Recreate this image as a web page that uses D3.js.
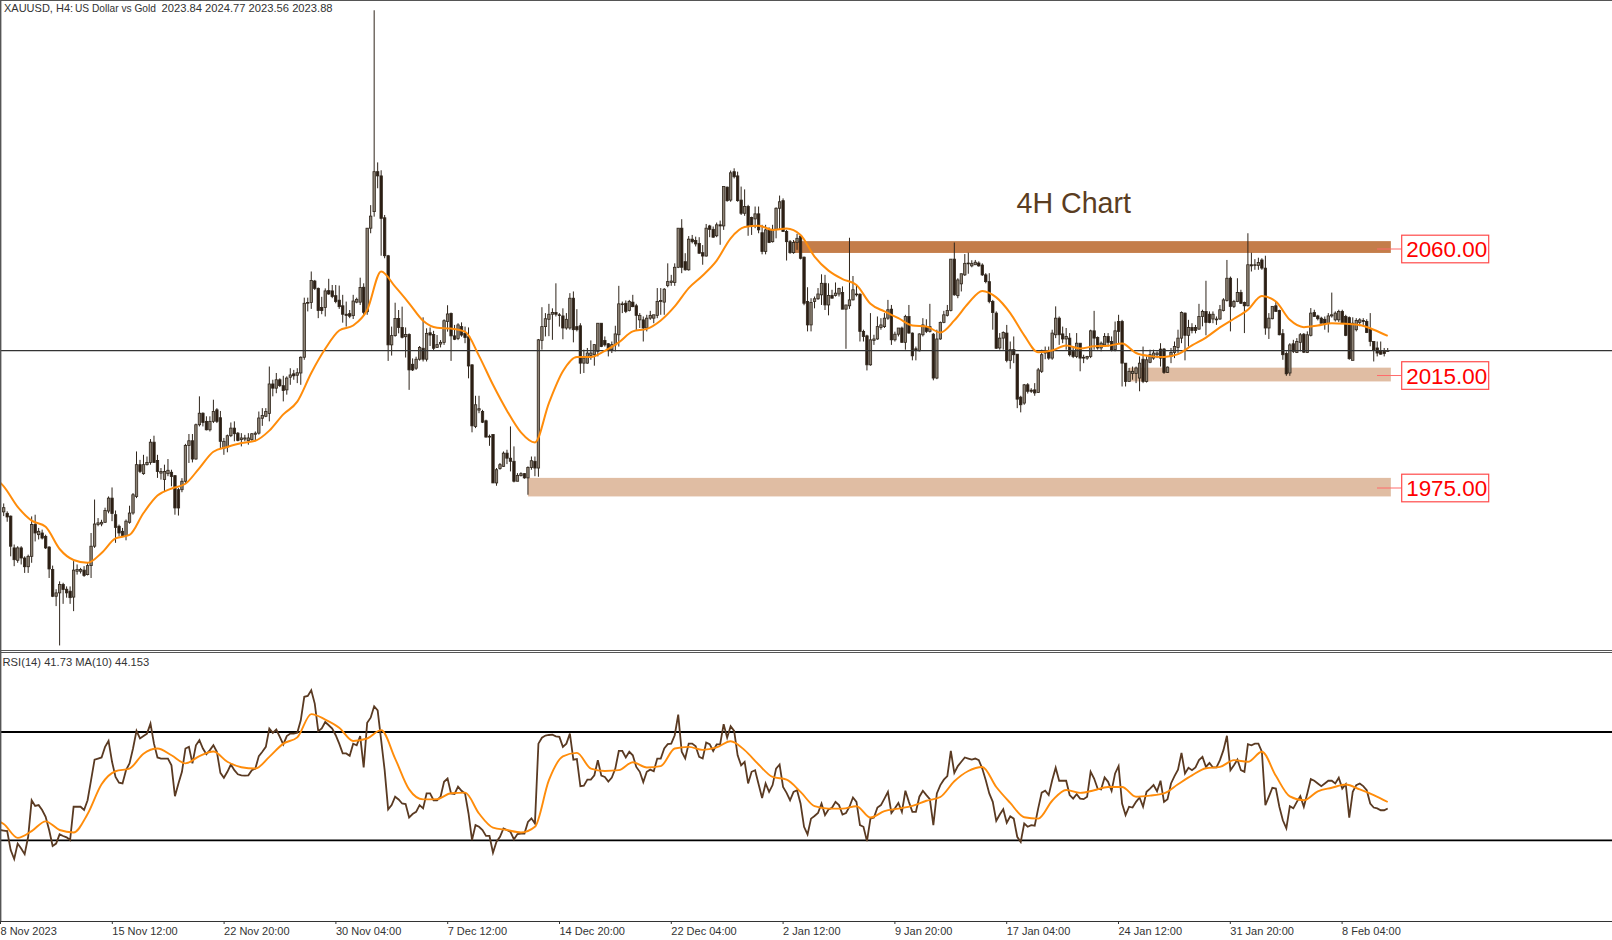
<!DOCTYPE html>
<html>
<head>
<meta charset="utf-8">
<title>XAUUSD H4</title>
<script src="https://cdn.jsdelivr.net/npm/d3@7"></script>
<style>
	html, body { margin: 0; padding: 0; background: #fff; }
	svg { display: block; }
	text { font-family: "Liberation Sans", Arial, sans-serif; white-space: pre; }
</style>
</head>
<body>
<svg id="chart" width="1612" height="940"></svg>
<script>
//values, one per 4h bar
const opens = [
1966.5,1966,1965,1953.7,1949.3,1953.7,1950.1,1947,1950.7,1962,
1958.4,1959,1957.8,1954,1946,1936.5,1937.7,1940.7,1939,1938.3,
1936.2,1945.4,1945.4,1945.8,1944.2,1947.4,1954.3,1962,1962.2,1962.8,
1966.8,1971.4,1965.5,1961.4,1959.6,1958.1,1962.8,1966.1,1972,1983.3,
1980.1,1983.3,1984.1,1991.3,1984.8,1980.3,1978,1980.1,1980.6,1979.4,
1974.4,1974.4,1977.4,1990.1,1991.8,1985.3,1997.5,2001.6,1998.7,1995.7,
1998.7,2002.8,2000,1989.2,1989.6,1993.6,1996.3,1994.5,1992.2,1992.4,
1991.8,1992.2,1994.1,1994.5,1999.8,2000.5,2001.5,2012,2010.5,2013.5,
2011.4,2009.9,2014.4,2015.6,2015.1,2015.9,2021.5,2040.7,2041,2048.6,
2046,2039.2,2039.2,2045.2,2045.1,2043.4,2041.8,2039.8,2036.8,2037,
2036.3,2041.1,2041.1,2046.4,2037.7,2067.4,2073.3,2087.5,2086,2071.1,
2057.6,2025.9,2029.2,2035.3,2032.1,2028.8,2029.6,2019,2017.6,2020.8,
2024.7,2020.8,2030.2,2029.6,2025,2026.2,2026.8,2034.2,2037.1,2029.1,
2028.2,2032.4,2030,2028.8,2018.8,1996.9,2002.7,2002.2,1998.9,1993.1,
1994,1976.8,1981.9,1982.7,1987.4,1985.6,1984.5,1977.4,1979.4,1980.1,
1978.6,1982.3,1984.5,1982.1,2027.5,2032.4,2035,2036.8,2037.4,2036.6,
2036.2,2031.9,2031.9,2042.5,2032.4,2032.7,2019.4,2019.4,2022.1,2022.4,
2023.6,2033.6,2027.5,2026.3,2024.2,2025.9,2029.5,2040.5,2040.7,2038.1,
2041.1,2039.8,2034.8,2034.8,2031.9,2035.4,2035.4,2036.4,2041.3,2041.1,
2047,2048.1,2048.1,2053.5,2067.4,2055.5,2052.6,2063.5,2063,2062,
2058.7,2057.5,2068.2,2067,2064.7,2068.6,2068.2,2082,2077.4,2087.5,
2086,2077.4,2072.7,2075.1,2071.2,2070.7,2072.5,2065.8,2059.1,2066.8,
2062.6,2067,2074.5,2077.2,2066.2,2062.6,2058.7,2062.3,2064.6,2057.1,
2041.3,2033,2041.3,2042.3,2043.7,2047.8,2040.1,2043.5,2043.5,2044,
2044.5,2038.6,2039.8,2041.9,2044,2043.9,2030.7,2029.1,2018.8,2027.5,
2028,2032.1,2032.4,2035.4,2038.6,2027.7,2029.7,2031.9,2026.8,2036,
2030.1,2024.5,2023.8,2029.5,2032.4,2030.7,2029.7,2014.1,2028,2033.9,
2036.4,2038.1,2056.4,2043.4,2047.6,2050.8,2055,2054,2054.4,2055,
2054.3,2050.8,2048.4,2041.3,2037.2,2024.8,2028.3,2030.1,2020.4,2024.2,
2022.6,2007.3,2005.2,2011.7,2009.8,2009.9,2009,2016.5,2023,2023.6,
2021.2,2029.5,2035.4,2029.8,2028,2028.3,2023.6,2021.8,2026.5,2021.5,
2021.2,2021.8,2030.9,2028.5,2024.8,2025.9,2028.9,2027.1,2024.2,2034.2,
2034.2,2019.4,2012.9,2015.7,2015.7,2014.1,2020.8,2012.9,2019.7,2021.2,
2022.4,2024.4,2024.4,2016.1,2021.8,2023.2,2025,2028.3,2037.2,2029.3,
2032.1,2032.1,2031.5,2036,2037.8,2036.8,2035.1,2034.8,2035.1,2038.1,
2041.7,2049.6,2039.6,2041.3,2044.5,2041,2039.8,2054.4,2054.1,2054.1,
2056.1,2053.2,2031.9,2035.2,2039.8,2038.1,2029.9,2022.8,2015.9,2026.3,
2023.2,2026.8,2029.7,2023.2,2029.3,2037.4,2036.2,2035.4,2035,2033.6,
2036.2,2034.8,2034.8,2037.8,2036,2035.6,2020.4,2031.3,2033.9,2034.6,
2034.2,2031.5,2027.1,2024.8,2023.6,2023.6,2023.84];

const highs = [
1969.5,1966.7,1965.2,1954.9,1954.3,1954.3,1950.7,1951.3,1964.9,1965.5,
1960.8,1960.2,1958.4,1954.3,1947.4,1939,1941.8,1941.3,1940,1940,
1949,1947.8,1946.6,1947.2,1948.4,1959,1970.9,1964.3,1963.7,1968,
1972,1975.2,1967,1962,1960.8,1963.8,1968.7,1973.2,1988,1985,
1986.8,1986.2,1992.4,1993.6,1986.8,1982.1,1983.3,1985.3,1981.5,1979.5,
1975,1978.5,1990.7,1994.2,1994.2,1997.9,2007.6,2001.9,2000.5,2000.5,
2006.4,2003.4,2002.4,1992.8,1994,1998.3,1998.7,1994.9,1994.5,1993.9,
1994.5,1994.5,1995.1,2002.2,2003.4,2003.4,2018.2,2013.5,2015.9,2014,
2014.9,2014.7,2017.6,2017,2017.6,2021.8,2042.7,2042.7,2052,2049,
2046.3,2043,2046,2049.4,2047.2,2047.2,2047,2043.7,2041.3,2038.3,
2043.7,2042.7,2049.8,2047.8,2067.4,2075.6,2144.9,2090.8,2088,2072.1,
2057.9,2032.4,2040.9,2038.3,2039.5,2032.1,2030,2021.1,2021.7,2025.5,
2035.7,2031.8,2032.1,2030.9,2029.4,2027.6,2035,2040,2037.4,2033,
2033.6,2033.9,2032.4,2032.1,2019,2007.8,2007.8,2002.8,1999.3,1994,
1994.2,1982.1,1983.9,1988,1988.6,1996.9,1989.8,1980.3,1980.6,1980.3,
1982.7,1986.2,1986.2,2028,2039.3,2037.2,2040.5,2038.9,2047.8,2037.2,
2038.9,2037.2,2044.3,2044.9,2038.6,2033.6,2024.2,2024.8,2027.5,2026,
2033.6,2033.6,2028.9,2026.5,2027.1,2032.7,2046.9,2041.3,2041.7,2041.9,
2043.7,2040.5,2037.2,2036,2036.6,2038,2036.6,2046.1,2046.1,2046.1,
2054.9,2050.8,2054.9,2067.4,2070.6,2058.5,2064.6,2065,2064.4,2064.2,
2061.4,2068.9,2068.6,2068,2069.4,2070.1,2082.2,2082.2,2087.9,2088.7,
2087.5,2082.2,2081.2,2075.7,2071.5,2075.1,2075.1,2068.6,2068.6,2067.7,
2068.6,2074.8,2079,2078,2066.8,2063.2,2063.2,2065.4,2065,2057.3,
2046.4,2042.5,2043.1,2046.1,2051,2050.8,2047.8,2045.5,2048.1,2046.2,
2046.7,2040.1,2064,2050.4,2047.2,2044.3,2031.3,2029.5,2037.2,2029.5,
2036,2035.4,2037.2,2041.9,2040.1,2030.6,2031.9,2032.4,2036.6,2040.1,
2030.3,2025.3,2030,2035.4,2035,2040.5,2030.1,2031.3,2034.2,2038,
2040.1,2056.4,2062.3,2049.6,2051.2,2058.2,2058.7,2056,2056.1,2055.6,
2054.9,2051.4,2051.4,2041.9,2037.8,2030.1,2030.7,2033,2027.1,2028.9,
2022.6,2007.8,2012,2012.3,2010.5,2012.3,2017.7,2024.2,2025.3,2025.3,
2031.3,2039.6,2036,2032.4,2031.9,2030.1,2025.3,2030.1,2026.5,2022.4,
2022,2031.3,2038,2028.9,2027.1,2030.1,2030.1,2028.9,2034.2,2036.6,
2034.8,2019.4,2017.7,2018.2,2018.2,2021.8,2025.3,2021.8,2024.2,2024.2,
2023.6,2026.5,2024.8,2018.2,2024.8,2027.1,2031.3,2037.8,2037.4,2034.8,
2033.6,2033,2040.5,2038.4,2048.7,2037.8,2037.8,2036,2040.1,2042.5,
2056.1,2050.2,2041.9,2049.6,2045.5,2041.3,2065.6,2058.7,2056.4,2056.9,
2056.7,2057.6,2037.2,2039.6,2041.3,2038.4,2031.5,2023.6,2026.5,2027.7,
2028.3,2030.1,2030.1,2030.7,2039,2038.4,2036.6,2035.9,2036,2037.2,
2044.5,2037.8,2038.4,2038.4,2036.6,2036,2035.7,2035.4,2035.4,2035.4,
2035,2037.2,2027.1,2027.1,2027.1,2024.8,2024.77];

const lows = [
1965,1963,1950.7,1947.2,1948.4,1947.8,1944.8,1944.8,1948.4,1956,
1956.7,1956.7,1953.3,1943,1936.2,1933,1919,1933.8,1936,1933.8,
1931.2,1944.2,1944.6,1943.4,1943.9,1943,1953.7,1961.4,1961.4,1962.6,
1966,1963.2,1955.5,1957.8,1957.6,1956.4,1962.3,1965.5,1971.4,1980.3,
1979.7,1983,1983.3,1983.9,1978.6,1978,1973.8,1979.2,1975.6,1965.5,
1965.2,1973.5,1976.8,1983.9,1984.1,1985.1,1996.9,1996.9,1995.5,1995.1,
1998.1,1998.1,1988.9,1986.8,1987.7,1993.1,1991.6,1991.6,1989.8,1991.6,
1990.4,1991.8,1991.9,1994,1997.1,2000.2,1998.7,2007.6,2008.7,2010.9,
2005.8,2008.2,2011.7,2013.5,2012.3,2011.7,2020.6,2037.8,2038.7,2045.4,
2035.4,2036.8,2036,2043.7,2042.5,2040.7,2038.7,2033.8,2032.4,2035.4,
2035.1,2040.7,2040.1,2036.6,2036.6,2065.6,2071.5,2081.6,2057.6,2056.7,
2020.2,2022.1,2028.8,2030,2028.2,2021.4,2009.9,2016.6,2017,2020.3,
2020,2020,2025.5,2024.1,2025,2025,2025.9,2030.6,2020.2,2027.6,
2027.6,2028.8,2026.5,2014,1994.8,1996.3,2001.6,1998.1,1993,1990,
1976.8,1975.8,1981.5,1982.5,1983.5,1980.9,1977,1977.4,1979.1,1978.3,
1972.6,1981.5,1979.2,1979,2024.2,2028.9,2029,2027.7,2036,2032.4,
2027.9,2031.3,2031.3,2026.8,2030.7,2015.6,2015.9,2019.2,2020.6,2018.5,
2021.8,2025.1,2025.3,2021.8,2023,2023.6,2025.3,2037.2,2037.2,2037.8,
2039.3,2031,2031.9,2027.1,2030.7,2034.8,2033.6,2035.4,2036.6,2036.6,
2046.4,2046.9,2046.9,2053.2,2051.4,2052.3,2052.3,2062,2060.9,2058.3,
2054.4,2057.3,2064.2,2064,2064.2,2061.5,2066.8,2076.8,2076.8,2085.1,
2076.8,2072.1,2071.8,2064.7,2065,2067.4,2065.6,2058.1,2058.1,2062.1,
2062.3,2063.8,2066.8,2066.2,2055.9,2058.3,2058.3,2059.7,2056.3,2040,
2030.7,2030.7,2038.9,2041.9,2040.1,2038.3,2036.4,2042.5,2043.1,2043.1,
2038.6,2024.5,2038.7,2041.7,2043.1,2027.1,2027.1,2016.8,2018.5,2025.9,
2027.7,2031.3,2031.9,2034.8,2025.9,2027.1,2028.9,2026.7,2024.2,2029.9,
2020.4,2020.4,2023.6,2028.9,2030.1,2030.3,2013.3,2013.7,2027.7,2033.6,
2036,2037.8,2043.4,2042.5,2044.9,2050.4,2051.2,2053.5,2054.4,2053.7,
2050.4,2047.8,2040.7,2031.3,2024.5,2024.2,2024.2,2019.7,2017.4,2019.4,
2003.4,2001.9,2004.6,2008.6,2008.8,2007.8,2008.8,2015.9,2020.8,2020.6,
2020.6,2028.3,2025.9,2026.5,2024.2,2021.8,2021.2,2021.2,2016.5,2019.4,
2020.6,2021.2,2024.2,2024.2,2023.6,2025.3,2025.3,2023.6,2023.6,2026.5,
2011.1,2011.1,2013.5,2013.5,2012.3,2009.4,2012.3,2012.5,2019.4,2020.6,
2021.2,2018.2,2015.6,2015.9,2019.4,2021.2,2023,2026.5,2020.4,2025.3,
2030,2030,2031.3,2032.5,2029.3,2033.6,2033.6,2033,2034.8,2037.8,
2041.3,2030.7,2039,2041.1,2040.5,2030.1,2039.6,2052,2052.6,2052.6,
2052.6,2029.5,2028,2035,2037.8,2029.3,2020.6,2014.9,2014.9,2023,
2023,2023.6,2023,2023,2028.9,2036,2034.6,2033.6,2031.3,2030.3,
2035.6,2034.2,2034,2033.6,2029,2020.6,2020.4,2030.7,2032.5,2033,
2030.1,2025.4,2020,2021.8,2022.4,2021.8,2023.56];

const closes = [
1968,1964.7,1954.3,1949.5,1953.7,1950.1,1947,1950.7,1962,1959,
1959.6,1957.2,1953.7,1946.2,1936.5,1937.7,1940.7,1938.9,1937.7,1936,
1945.8,1946,1946,1943.9,1947.4,1954.3,1962.2,1962.6,1962.8,1967,
1971.4,1965.9,1961,1959,1958.1,1963.2,1966.1,1972.6,1983.3,1980.9,
1983.3,1984.1,1991.3,1984.1,1980.9,1980.9,1980.9,1981.3,1979.1,1967.9,
1967.9,1977.4,1990.1,1991.8,1985.3,1997.5,2001.6,1998.3,1995.7,1998.7,
2002.2,1998.7,1991.6,1991.6,1993.6,1996.3,1994.3,1991.9,1992.8,1992.8,
1992.8,1994.3,1994.5,1999.9,2000.8,2002.2,2012,2010.5,2013.5,2011.4,
2009.7,2014.1,2015.2,2014.9,2016,2021.5,2040.7,2041,2048.8,2046,
2038.1,2038.1,2045.1,2044,2043.1,2041.3,2039.5,2036.8,2036.4,2036.1,
2041.5,2042.1,2046.3,2037.5,2067.4,2071.7,2087.5,2086,2070.9,2057.6,
2025.9,2029.2,2035.3,2032.1,2028.6,2029.6,2017,2017,2020.8,2025,
2020.8,2030,2029.4,2024.7,2026,2026.8,2034.5,2036.9,2029.1,2027.9,
2033,2029.4,2028.5,2018.4,1997.1,2004.6,2003.2,1998.4,1993.1,1993.4,
1976.8,1981.5,1983.3,1987.4,1985.6,1984.5,1977.4,1979.5,1980.1,1978.6,
1982.3,1984.7,1982.1,2027.7,2032.4,2035.2,2036.8,2037.4,2036.8,2036.4,
2031.9,2035,2042.5,2031.3,2031.3,2019.4,2021.2,2023,2023,2026,
2033.6,2025.3,2025.9,2024.2,2026,2029.8,2040.5,2040.5,2037.8,2041.3,
2039.5,2036.4,2036.4,2031.9,2035.4,2036.4,2036.6,2041.3,2041.7,2045.7,
2048.4,2048.6,2053.5,2067.4,2053.5,2052.6,2063.5,2062.6,2061.8,2058.5,
2057.5,2067.4,2067,2064.2,2068.6,2068.2,2082.2,2077.2,2087.1,2085.7,
2077.2,2072.7,2075.1,2068,2068,2072.5,2066.8,2059.1,2066.8,2062.3,
2067,2074.5,2076.8,2066.2,2062.6,2058.7,2062.3,2063.8,2056.7,2040.7,
2033,2041,2042.3,2044,2047.8,2040.1,2043.5,2042.5,2044.3,2046,
2038.6,2040.1,2041.9,2045.5,2044,2030.7,2028.9,2018.8,2027.7,2028,
2032.4,2033,2035.4,2038.4,2027.7,2029.7,2031.9,2026.8,2036,2030.1,
2022,2024.2,2029.8,2033,2030.7,2032.4,2014.1,2028,2033.9,2036.6,
2038.1,2056.4,2043.7,2049,2051.2,2054.9,2055,2054.9,2055.3,2054,
2050.8,2048.4,2041.3,2037.4,2024.7,2028.3,2030.3,2020.4,2024.2,2022.4,
2006.6,2004.6,2011.7,2009.4,2009.4,2008.8,2017,2022.4,2023.6,2021.2,
2030.1,2035.4,2029.5,2028,2028.9,2022.4,2021.8,2026.5,2021.2,2021.2,
2021.8,2030.9,2028.3,2024.8,2026.5,2028.9,2026.8,2024.2,2030.9,2030.7,
2019.4,2012.9,2016.5,2016.5,2017.7,2019.4,2012.9,2020.6,2022.4,2023,
2023,2021.2,2016.1,2018,2023.2,2025.3,2028.3,2037.4,2029.3,2032.1,
2031,2031,2036,2037.8,2033.9,2033.9,2036.8,2035.1,2038.4,2041.9,
2049.6,2039.6,2041.3,2044.5,2040.7,2039.8,2054.4,2054,2054.4,2055.2,
2053.2,2031.9,2035.4,2039.6,2037.8,2029.5,2022.4,2015.6,2025.9,2023.6,
2027.1,2029.5,2023.3,2029.5,2037.2,2036,2035.2,2033.6,2033.4,2036.2,
2036.6,2037.2,2037.8,2033.6,2029.3,2021,2033.6,2034.6,2034.8,2034.2,
2030.3,2027.1,2024.2,2023,2022.6,2022.8,2023.88];

//moving average, read every 4th bar (lead-in is the bar just off the left edge)
const maStep = 4;
const maLeadIn = 1977;
const maValues = [
1975.6,1968.3,1963.4,1961.2,1953.3,1949.4,1948.4,1951.9,1957.1,1958.3,
1966.1,1972.3,1974.8,1976.5,1982.1,1987.9,1989.6,1991,1991.8,1995.4,
2001.2,2005.7,2015.9,2024.5,2031,2032.8,2038.3,2052,2046.6,2040.7,
2034.5,2032,2031.7,2030.6,2022,2011.7,2002.5,1994.8,1991.2,2005.2,
2016.5,2021.6,2021.6,2023.8,2026.8,2030.7,2031.6,2034.6,2039.6,2046.1,
2050.6,2055.9,2063.8,2067.8,2068.3,2066.8,2067.3,2065,2057.3,2052.3,
2049.3,2047.2,2040.5,2037.8,2035.4,2032.8,2032.4,2030.3,2034.6,2040.7,
2045.1,2042.8,2037.2,2029.3,2023.3,2023.9,2025.7,2024.6,2025.4,2025.6,
2026.4,2023,2021.9,2021.6,2022.6,2025.7,2028.5,2032.1,2035.2,2038.4,
2043.3,2041.3,2034.8,2032.2,2032.8,2033.6,2033.4,2033,2031.3,2029.1];

const rsiLeadIn = 33.8;
const rsiValues = [
33.6,33.4,26.4,23.1,28.8,27,24.9,31.3,44.8,42.7,
43,41.2,38.7,33.8,27.9,28.8,32.2,31.6,31.1,30.1,
42.4,42.4,42.4,41.2,44.8,52.2,59.8,60.2,60.6,64.5,
66.7,59,53.4,51.3,51,55.9,58.4,63.9,70.4,67.6,
68.5,69.4,73.1,65.7,60.6,60.2,60.2,60.2,57.7,46.3,
51,55.3,63.9,64.5,58.4,65.1,67,63.9,61.8,63.3,
65.1,62.7,54.9,53.1,55.3,58,55.9,54.4,54,53.9,
54,55.9,56.5,61.1,62.7,64.5,71.3,69.7,70.9,68.2,
65.4,68.5,69.4,69.4,69.7,74.3,83,83.3,85.4,80.5,
70.3,71.3,73.7,72.5,71.3,68.8,65.7,62.1,62.1,61.2,
65.7,65.1,68.5,56.9,73.4,75.3,79.5,78,67,55.9,
41.4,43,46.1,45.1,43.6,43.4,38.4,39.7,40.5,43,
41.8,47.3,47.3,44.8,44.8,46.1,51.6,52.8,47.3,47.1,
49.8,48.3,47.3,39.9,30.1,35.6,35,33.8,31.6,31.6,
25.4,29.5,31.3,34.4,33.8,33.1,30.3,32.3,32.5,32.5,
36.8,38.1,36.2,65.7,67.9,68.7,68.9,69,68.4,68.2,
64.5,65.7,69.4,59.8,60,50,50.2,52.4,52.4,54,
59.6,53.9,53.4,51.7,53.2,56.5,63,63,60.6,62.7,
61.4,57.1,55.3,51.5,55.3,56.1,55.5,60.2,60.2,63.9,
65.5,65.7,68.8,76.4,62.7,60.2,65.7,65.7,64.7,60.8,
60.2,66.1,65.5,63,65.4,65.5,72.9,67.9,72.1,70.4,
61.4,57.7,59,51,55.3,55.9,50.7,45.6,51,47.9,
50.4,56.5,58,49.7,47.5,44.8,47.9,48.5,43.6,35,
32.2,38,39,40.1,43.6,39.3,41.4,42,44.2,43,
39.5,40.1,42.4,45.8,44.2,35.6,35,29.7,38,38.4,
42.1,43,45.4,47.9,40.1,41.8,43.8,40.5,48.3,44.2,
40.5,40.5,46.1,48.3,46.7,45.2,35.6,47.3,50.4,52.4,
53.7,63,54.9,57.4,59,60.6,60.2,59.8,60.2,59.6,
56.5,52.2,47.3,44.2,37.2,39.5,41.5,36.5,38.9,38,
31.3,29.4,36.2,35,35.6,35.4,41.8,47.6,48.3,46.7,
52.2,56.8,52,52,52,46.7,45.4,47,45.4,45.2,
46.1,55.3,52.8,49.1,48.8,53.2,51.6,48.3,54.7,57.4,
43.6,39.3,42.4,42.1,44.2,45.8,42.4,47.9,49.1,50.4,
48.1,52,44.2,45.2,51,53.7,56.1,62.3,54.7,56.8,
55.9,56.9,59.6,60.8,57.1,58.6,56.9,56.9,59.6,63.3,
68.6,55.9,57.7,59.8,55.9,55.3,65.5,65.1,65.7,65.7,
62.7,43,46.1,49.4,49.1,42.4,37.4,34.4,42.6,41.8,
44.2,46.3,42.4,47.3,52.6,52,51,50,51,52,
52,51,53.1,49.1,50.7,38.4,47.9,50.4,51,50,
48.5,43.6,42.1,41.8,41.1,41.1,41.73];

//signal line of the RSI, read every 4th bar
const rsiMaLeadIn = 36.8;
const rsiMaValues = [
36,30.9,33.4,37,33.8,32.9,39.7,50.7,55.5,56.5,
62,63.9,61.4,58.4,61.1,62.8,59,57,56.5,60.8,
65.7,68,76.6,74.6,71.6,66.7,67.6,70.7,60.2,48.8,
45.1,45.2,47.4,47.6,39.9,34.7,33.8,32.9,35,52.2,
61,62.3,56.5,55.6,55.9,58.8,56.9,57.4,63.9,64.5,
63.4,64.3,66.6,63.3,58,53.4,52.4,47.9,42.6,41.7,
41.7,42.6,38.4,40.8,41.7,42.7,44.6,46,51.8,55.6,
57.1,49.7,43.8,38.5,38,44.6,48.6,47.5,48.5,49.7,
49.7,46.1,46.5,47.3,50.7,54,56.6,57.1,59.6,59,
62.7,53.8,46.2,44.8,48.1,49.4,50.6,48.8,46.7,44.153];

const rsiLevels = [70, 30];
const currentPrice = 2023.88;

const tickLabels = ["8 Nov 2023","15 Nov 12:00","22 Nov 20:00","30 Nov 04:00","7 Dec 12:00","14 Dec 20:00","22 Dec 04:00","2 Jan 12:00","9 Jan 20:00","17 Jan 04:00","24 Jan 12:00","31 Jan 20:00","8 Feb 04:00"];
const tickStep = 32;

//support and resistance zones
const zoneLevels = [2060, 2015, 1975];
const zoneTops = [2062.8, 2017.8, 1978.6];
const zoneBottoms = [2058.6, 2012.9, 1972];
const zoneStartBars = [226, 322, 150];
const zoneColors = ["#c47d4a", "#e0bda3", "#e0bda3"];

const titleSymbol = "XAUUSD, H4:";
const titleName = "US Dollar vs Gold";
const titlePrices = "2023.84 2024.77 2023.56 2023.88";
const rsiText = "RSI(14) 41.73 MA(10) 44.153";

let svg = d3.select("#chart"),
	width = +svg.attr("width"),
	mainBottom = 650.5,
	rsiTop = 652.5,
	axisY = 921;

let colorUp = "#8d8376",
	colorDown = "#2c1e13",
	colorEdge = "#2f251b",
	colorMa = "#ff8c0a",
	colorRsi = "#5a3a22",
	colorBorder = "#555555";

let bars = d3.range(closes.length);

//define scales
let x = d3.scaleLinear().domain([0, 396]).range([3.7, 1387.7]),
	y = d3.scaleLinear().domain([2060, 1975]).range([249, 488]),
	yRsi = d3.scaleLinear().domain([70, 30]).range([732, 840.3]),
	xTicks = d3.scaleLinear().domain([0, 384]).range([0, 1341.6]);

//pairs of bar index and value for the sampled lines
function sampled(values, leadIn) {
	return [[-1.06, leadIn]].concat(values.map(function(d, i) { return [i * maStep, d]; }));
}

//zones
let zones = svg.append("g").attr("class", "zones");
zoneLevels.forEach(function(level, i) {
	zones.append("rect")
		.attr("x", x(zoneStartBars[i]))
		.attr("width", x(396.9) - x(zoneStartBars[i]))
		.attr("y", y(zoneTops[i]))
		.attr("height", y(zoneBottoms[i]) - y(zoneTops[i]))
		.attr("fill", zoneColors[i]);
});

//candles
let candles = svg.append("g").attr("class", "candles");
candles.selectAll("line")
	.data(bars)
	.join("line")
	.attr("x1", function(d) { return x(d); })
	.attr("x2", function(d) { return x(d); })
	.attr("y1", function(d) { return y(highs[d]); })
	.attr("y2", function(d) { return y(lows[d]); })
	.attr("stroke", colorEdge)
	.attr("stroke-width", 1);

candles.selectAll("rect")
	.data(bars)
	.join("rect")
	.attr("x", function(d) { return x(d) - 1.2; })
	.attr("width", 2.4)
	.attr("y", function(d) { return y(Math.max(opens[d], closes[d])); })
	.attr("height", function(d) { return Math.max(0.8, Math.abs(y(opens[d]) - y(closes[d]))); })
	.attr("fill", function(d) { return closes[d] >= opens[d] ? colorUp : colorDown; })
	.attr("stroke", colorEdge)
	.attr("stroke-width", 0.8);

//current price line
svg.append("line")
	.attr("x1", 0).attr("x2", width)
	.attr("y1", y(currentPrice)).attr("y2", y(currentPrice))
	.attr("stroke", "#333333")
	.attr("stroke-width", 1.2);

//moving average
svg.append("path")
	.datum(sampled(maValues, maLeadIn))
	.attr("fill", "none")
	.attr("stroke", colorMa)
	.attr("stroke-width", 2)
	.attr("d", d3.line()
		.x(function(d) { return x(d[0]); })
		.y(function(d) { return y(d[1]); })
		.curve(d3.curveMonotoneX));

//level boxes on the right
let boxX = 1401.7, boxWidth = 87, boxHeight = 27.6;
let levels = svg.append("g").attr("class", "levels");
zoneLevels.forEach(function(level) {
	levels.append("line")
		.attr("x1", 1377).attr("x2", boxX)
		.attr("y1", y(level)).attr("y2", y(level))
		.attr("stroke", "#ff6a6a")
		.attr("stroke-width", 1);
	levels.append("rect")
		.attr("x", boxX)
		.attr("y", y(level) - boxHeight / 2)
		.attr("width", boxWidth)
		.attr("height", boxHeight)
		.attr("fill", "#ffffff")
		.attr("stroke", "#ff4a4a")
		.attr("stroke-width", 1.2);
	levels.append("text")
		.attr("x", boxX + boxWidth / 2 + 1.5)
		.attr("y", y(level) + 8)
		.attr("text-anchor", "middle")
		.attr("fill", "#ff0000")
		.style("font-size", "22.4px")
		.text(level.toFixed(2));
});

svg.append("text")
	.attr("x", 1016.5)
	.attr("y", 212.5)
	.attr("fill", "#5a3d22")
	.style("font-size", "28.6px")
	.text("4H Chart");

//rsi pane
rsiLevels.forEach(function(level) {
	svg.append("line")
		.attr("x1", 0).attr("x2", width)
		.attr("y1", yRsi(level)).attr("y2", yRsi(level))
		.attr("stroke", "#000000")
		.attr("stroke-width", 1.8);
});

svg.append("path")
	.datum([[-1.06, rsiLeadIn]].concat(rsiValues.map(function(d, i) { return [i, d]; })))
	.attr("fill", "none")
	.attr("stroke", colorRsi)
	.attr("stroke-width", 1.8)
	.attr("d", d3.line()
		.x(function(d) { return x(d[0]); })
		.y(function(d) { return yRsi(d[1]); }));

svg.append("path")
	.datum(sampled(rsiMaValues, rsiMaLeadIn))
	.attr("fill", "none")
	.attr("stroke", colorMa)
	.attr("stroke-width", 1.9)
	.attr("d", d3.line()
		.x(function(d) { return x(d[0]); })
		.y(function(d) { return yRsi(d[1]); })
		.curve(d3.curveMonotoneX));

//frame
[0.5, mainBottom, rsiTop].forEach(function(lineY) {
	svg.append("line")
		.attr("x1", 0).attr("x2", width)
		.attr("y1", lineY).attr("y2", lineY)
		.attr("stroke", colorBorder)
		.attr("stroke-width", 1);
});
svg.append("line")
	.attr("x1", 0.7).attr("x2", 0.7)
	.attr("y1", 0).attr("y2", axisY)
	.attr("stroke", colorBorder)
	.attr("stroke-width", 1.4);

//time axis
let timeAxis = d3.axisBottom(xTicks)
	.tickValues(tickLabels.map(function(d, i) { return i * tickStep; }))
	.tickFormat(function(d, i) { return tickLabels[i]; })
	.tickSize(3)
	.tickPadding(3);

let axisG = svg.append("g")
	.attr("class", "x-axis")
	.attr("transform", "translate(0," + axisY + ")")
	.call(timeAxis);

axisG.select(".domain").remove();
axisG.selectAll(".tick line").attr("stroke", "#333333");
axisG.selectAll(".tick text")
	.attr("text-anchor", "start")
	.attr("fill", "#333333")
	.style("font-family", '"Liberation Sans", Arial, sans-serif')
	.style("font-size", "11px");

svg.append("line")
	.attr("x1", 0).attr("x2", width)
	.attr("y1", axisY + 0.5).attr("y2", axisY + 0.5)
	.attr("stroke", "#333333")
	.attr("stroke-width", 1);

//captions
svg.append("text")
	.attr("x", 4).attr("y", 12)
	.attr("fill", "#333333")
	.style("font-size", "11px")
	.text(titleSymbol);

svg.append("text")
	.attr("x", 75).attr("y", 12)
	.attr("fill", "#333333")
	.style("font-size", "10.2px")
	.text(titleName);

svg.append("text")
	.attr("x", 161.5).attr("y", 12)
	.attr("fill", "#333333")
	.style("font-size", "11.2px")
	.text(titlePrices);

svg.append("text")
	.attr("x", 2.5).attr("y", 666)
	.attr("fill", "#333333")
	.style("font-size", "11.2px")
	.text(rsiText);
</script>
</body>
</html>
